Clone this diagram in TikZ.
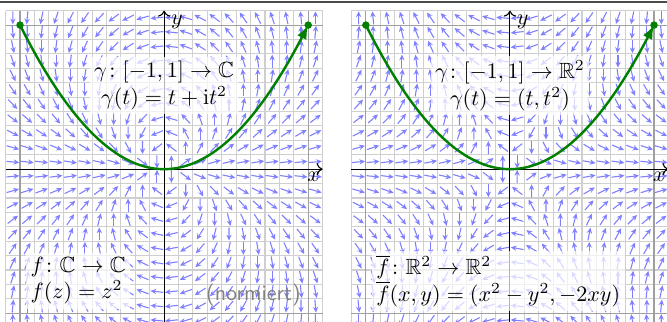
\documentclass[tikz,border=0pt]{standalone}
\usepackage{amsmath,amssymb}
\usetikzlibrary{arrows.meta, positioning}

\begin{document}
\begin{tikzpicture}[
    x=2.3cm, y=2.3cm,
    finegrid/.style={gray!38, line width=0.5pt},
    coarsegrid/.style={gray!75, line width=0.5pt},
    axisline/.style={->, black, line width=0.5pt},
    fieldarrow/.style={
        -{Stealth[length=2.6pt, width=2.4pt]},
        blue!50,
        line width=0.5pt
    },
    gammapath/.style={
        -{Latex[length=2.2mm]},
        line width=1.1pt,
        green!50!black
    },
    enddot/.style={circle, fill=green!50!black, inner sep=0pt, minimum size=3.4pt},
    formula/.style={
        fill=white,
        fill opacity=0.7,
        text opacity=1,
        inner sep=2pt
    },
    note/.style={font=\sffamily, text=gray}
]

    \useasboundingbox (-1.139,-1.056) rectangle (3.49,1.174);

    % -- Rule above --
    \draw[gray!60!black, line width=0.7pt] (-1.139,1.16) -- (3.49,1.16);

    % -- Both panels: grid, field, axes, path --
    \foreach \ox/\sg/\p in {0/1/L, 2.4/-1/R} {
        \begin{scope}[shift={(\ox,0)}]
            % Grid
            \foreach \k in {-11,...,11} {
                \draw[finegrid] (\k/10,-1.1) -- (\k/10,1.1);
                \draw[finegrid] (-1.1,\k/10) -- (1.1,\k/10);
            }
            \foreach \k in {-1,1} {
                \draw[coarsegrid] (\k,-1.1) -- (\k,1.1);
                \draw[coarsegrid] (-1.1,\k) -- (1.1,\k);
            }

            % Normalised vector field
            \foreach \i in {0,...,21} {
                \foreach \j in {0,...,21} {
                    \pgfmathsetmacro{\px}{-1.05+0.1*\i}
                    \pgfmathsetmacro{\py}{-1.05+0.1*\j}
                    \pgfmathsetmacro{\ang}{\sg*2*atan2(\py,\px)}
                    \pgfmathsetmacro{\bk}{\ang+180}
                    \draw[fieldarrow] (\px,\py) ++(\bk:0.045) -- ++(\ang:0.09);
                }
            }

            % Axes
            \coordinate (xend\p) at (1.1,0);
            \coordinate (yend\p) at (0,1.1);
            \draw[axisline] (-1.1,0) -- (xend\p);
            \draw[axisline] (0,-1.1) -- (yend\p);
            \node[below left=0pt of xend\p, inner sep=1pt] (xlab\p) {$x$};
            \node[below right=1pt and 2pt of yend\p, inner sep=1pt] (ylab\p) {$y$};

            % Path gamma
            \draw[gammapath] plot[domain=-1:1, samples=60, smooth] (\x,{\x*\x});
            \node[enddot] (start\p) at (-1,1) {};
            \node[enddot] (end\p) at (1,1) {};
        \end{scope}
    }

    % -- Labels left --
    \node[formula, align=center] (gammaC) at (0,0.58)
        {$\gamma\colon[-1,1]\to\mathbb{C}$\\ $\gamma(t)=t+\mathrm{i}t^2$};
    \node[formula, align=left, anchor=west] (fC) at (-0.96,-0.775)
        {$f\colon\mathbb{C}\to\mathbb{C}$\\ $f(z)=z^2$};
    \node[note] (norm) at (0.62,-0.875) {(normiert)};

    % -- Labels right --
    \node[formula, align=center] (gammaR) at (2.4,0.58)
        {$\gamma\colon[-1,1]\to\mathbb{R}^2$\\ $\gamma(t)=(t,t^2)$};
    \node[formula, align=left, anchor=west] (fR) at (1.44,-0.775)
        {$\overline{f}\colon\mathbb{R}^2\to\mathbb{R}^2$\\ $\overline{f}(x,y)=(x^2-y^2,-2xy)$};

\end{tikzpicture}
\end{document}
